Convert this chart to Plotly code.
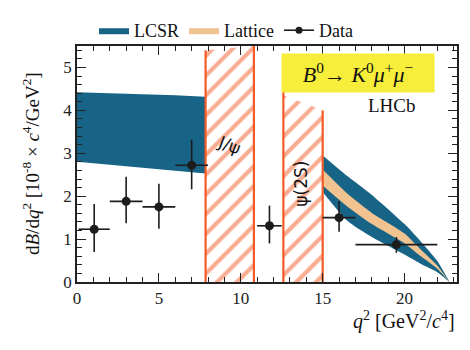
import plotly.graph_objects as go

# ---------------- data ----------------
# LCSR band at low q2
lcsr_low_q2 = [0.0, 2.0, 4.0, 6.0, 7.85]
lcsr_low_up = [4.42, 4.40, 4.37, 4.35, 4.32]
lcsr_low_dn = [2.80, 2.73, 2.66, 2.59, 2.53]

# high q2 bands
hi_q2 = [15.0, 16.5, 18.0, 20.0, 21.0, 22.0, 22.75]
lcsr_hi_up = [2.95, 2.47, 2.03, 1.35, 0.94, 0.49, 0.0]
lcsr_hi_dn = [2.10, 1.43, 1.05, 0.64, 0.42, 0.23, 0.0]
latt_up = [2.62, 2.06, 1.61, 1.13, 0.75, 0.38, 0.0]
latt_dn = [2.25, 1.76, 1.35, 0.90, 0.60, 0.31, 0.0]

# LHCb data
data_q2 = [1.05, 3.0, 5.0, 7.0, 11.75, 16.0, 19.5]
bin_lo = [0.1, 2.0, 4.0, 6.0, 11.0, 15.0, 17.0]
bin_hi = [2.0, 4.0, 6.0, 8.0, 12.5, 17.0, 22.0]
data_val = [1.23, 1.88, 1.75, 2.72, 1.31, 1.50, 0.87]
err_up = [0.59, 0.57, 0.54, 0.60, 0.47, 0.38, 0.18]
err_dn = [0.53, 0.51, 0.51, 0.56, 0.41, 0.33, 0.19]

# hand-drawn vetoed regions (J/psi and psi(2S))
jpsi_x = [7.85, 7.85, 10.8, 10.8]
jpsi_y = [0.0, 5.4, 5.5, 0.0]
psi2s_x = [12.6, 12.6, 15.0, 15.0]
psi2s_y = [0.0, 4.35, 4.0, 0.0]
veto_lines_x = [7.85, 7.85, None, 10.8, 10.8, None, 12.6, 12.6, None, 15.0, 15.0]
veto_lines_y = [0.0, 5.4, None, -0.05, 5.5, None, 0.0, 4.95, None, 0.0, 4.0]

x_ticks = [0, 5, 10, 15, 20]
y_ticks = [0, 1, 2, 3, 4, 5]

BLUE = "#176487"
PEACH = "#f0c391"
HATCH = "#f25a26"
FONT = "Liberation Serif, Times New Roman, serif"
INK = "#222"

fig = go.Figure()

# LCSR low
fig.add_trace(go.Scatter(
    x=lcsr_low_q2 + lcsr_low_q2[::-1], y=lcsr_low_up + lcsr_low_dn[::-1],
    fill="toself", fillcolor=BLUE, line=dict(width=0), mode="lines",
    name="LCSR", legendgroup="lcsr", showlegend=True, hoverinfo="skip"))
# LCSR high
fig.add_trace(go.Scatter(
    x=hi_q2 + hi_q2[::-1], y=lcsr_hi_up + lcsr_hi_dn[::-1],
    fill="toself", fillcolor=BLUE, line=dict(width=0, shape="spline", smoothing=0.6),
    mode="lines", name="LCSR", legendgroup="lcsr", showlegend=False, hoverinfo="skip"))
# Lattice
fig.add_trace(go.Scatter(
    x=hi_q2 + hi_q2[::-1], y=latt_up + latt_dn[::-1],
    fill="toself", fillcolor=PEACH, line=dict(width=0, shape="spline", smoothing=0.6),
    mode="lines", name="Lattice", showlegend=True, hoverinfo="skip"))

# hatched regions
for xs, ys in [(jpsi_x, jpsi_y), (psi2s_x, psi2s_y)]:
    fig.add_trace(go.Scatter(
        x=xs, y=ys, fill="toself", mode="lines", line=dict(width=0),
        fillcolor="rgba(0,0,0,0)",
        fillpattern=dict(shape="/", fgcolor=HATCH, bgcolor="rgba(255,255,255,0)",
                         size=14, solidity=0.3),
        showlegend=False, hoverinfo="skip"))
fig.add_trace(go.Scatter(x=veto_lines_x, y=veto_lines_y, mode="lines",
                         line=dict(color=HATCH, width=2.2), showlegend=False,
                         hoverinfo="skip", cliponaxis=False))

# data
fig.add_trace(go.Scatter(
    x=data_q2, y=data_val, mode="markers",
    marker=dict(color="#1c1c1c", size=9),
    error_y=dict(type="data", symmetric=False, array=err_up, arrayminus=err_dn,
                 color="#1c1c1c", thickness=1.6, width=0),
    error_x=dict(type="data", symmetric=False,
                 array=[h - c for h, c in zip(bin_hi, data_q2)],
                 arrayminus=[c - l for c, l in zip(data_q2, bin_lo)],
                 color="#1c1c1c", thickness=1.6, width=0),
    name="Data", showlegend=False))
# legend entry for data (line + marker)
fig.add_trace(go.Scatter(x=[None], y=[None], mode="lines+markers",
                         marker=dict(color="#1c1c1c", size=7),
                         line=dict(color="#1c1c1c", width=1.6), name="Data"))

tick_common = dict(ticks="inside", ticklen=9, tickcolor=INK, tickwidth=1.2)
axis_common = dict(showgrid=False, zeroline=False, showline=True, linecolor=INK,
                   linewidth=1.5, mirror=True,
                   tickfont=dict(family=FONT, size=17, color=INK), **tick_common)
x_minor = dict(dtick=1, tick0=0, ticks="inside", ticklen=5, tickcolor=INK, tickwidth=1.2)
y_minor = dict(dtick=0.2, tick0=0, ticks="inside", ticklen=5, tickcolor=INK, tickwidth=1.2)

fig.update_layout(
    xaxis=dict(range=[0, 23.2], tickvals=x_ticks, ticktext=[str(t) for t in x_ticks],
               minor=x_minor, **axis_common),
    yaxis=dict(range=[0, 5.5], tickvals=y_ticks, ticktext=[str(t) for t in y_ticks],
               minor=y_minor, **axis_common),
    xaxis2=dict(range=[0, 23.2], overlaying="x", side="top", tickvals=x_ticks,
                showticklabels=False, showgrid=False, zeroline=False, showline=False,
                minor=x_minor, **tick_common),
    yaxis2=dict(range=[0, 5.5], overlaying="y", side="right", tickvals=y_ticks,
                showticklabels=False, showgrid=False, zeroline=False, showline=False,
                minor=y_minor, **tick_common),
)
# invisible traces to activate the mirrored tick axes
fig.add_trace(go.Scatter(x=[None], y=[None], xaxis="x2", yaxis="y2",
                         showlegend=False, hoverinfo="skip"))

annotations = [
    dict(text="<i>B</i><sup>0</sup>→ <i>K</i><sup>0</sup><i>μ</i><sup>+</sup><i>μ</i><sup>−</sup>",
         xref="paper", yref="paper", x=(358 - 77) / 380, y=(282 - 66) / 244,
         xanchor="center", yanchor="middle", showarrow=False,
         bgcolor="#f6ee3a", width=150, height=36,
         font=dict(family=FONT, size=22, color="#111")),
    dict(text="LHCb", xref="paper", yref="paper", x=(392 - 77) / 380, y=(282 - 99) / 244,
         xanchor="center", yanchor="middle", showarrow=False,
         font=dict(family=FONT, size=19, color="#111")),
    dict(text="J/ψ", xref="x", yref="y", x=9.3, y=3.2, showarrow=False, textangle=20,
         font=dict(family="DejaVu Sans", size=17, color="#111")),
    dict(text="ψ(2S)", xref="x", yref="y", x=13.7, y=2.3, showarrow=False, textangle=-90,
         font=dict(family="DejaVu Sans", size=17, color="#111")),
    dict(text="<i>q</i><sup>2</sup> [GeV<sup>2</sup>/<i>c</i><sup>4</sup>]",
         xref="paper", yref="paper", x=1.0, y=(282 - 322) / 244,
         xanchor="right", yanchor="middle", showarrow=False,
         font=dict(family=FONT, size=20, color="#111")),
    dict(text="d<i>B</i>/d<i>q</i><sup>2</sup> [10<sup>-8</sup> × <i>c</i><sup>4</sup>/GeV<sup>2</sup>]",
         xref="paper", yref="paper", x=(31 - 77) / 380, y=(282 - 160) / 244,
         xanchor="center", yanchor="middle", showarrow=False, textangle=-90,
         font=dict(family=FONT, size=19, color="#111")),
]

fig.update_layout(
    width=470, height=350,
    margin=dict(l=77, r=13, t=38, b=68),
    paper_bgcolor="white", plot_bgcolor="white",
    showlegend=True,
    legend=dict(orientation="h", x=(226 - 77) / 380, xanchor="center",
                y=(282 - 22) / 244, yanchor="middle",
                font=dict(family=FONT, size=18, color="#111"),
                bgcolor="rgba(0,0,0,0)", itemwidth=30, tracegroupgap=0),
    annotations=annotations,
)

fig.write_html("out.html")
